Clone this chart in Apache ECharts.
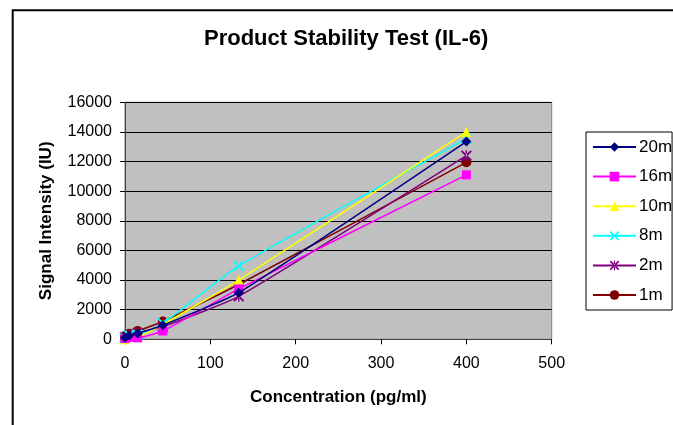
<!DOCTYPE html>
<html>
<head>
<meta charset="utf-8">
<script src="https://cdn.jsdelivr.net/npm/echarts@6/dist/echarts.min.js"></script>
<style>
html,body{margin:0;padding:0;background:#fff;}
#c{width:673px;height:425px;}
</style>
</head>
<body>
<div id="c"></div>
<script>
const concentrations = [0, 4.9, 14.8, 44.4, 133.3, 400];
const seriesNames = ['20m', '16m', '10m', '8m', '2m', '1m'];
const s20m = [100, 250, 400, 950, 3150, 13350];
const s16m = [50, 120, 100, 560, 3400, 11100];
const s10m = [0, 200, 180, 1000, 4000, 14000];
const s8m = [60, 280, 300, 1080, 4950, 13550];
const s2m = [120, 300, 420, 850, 2900, 12400];
const s1m = [220, 380, 560, 1200, 3700, 11950];
const yTicks = [0, 2000, 4000, 6000, 8000, 10000, 12000, 14000, 16000];
const xTicks = [0, 100, 200, 300, 400, 500];

const seriesValues = [s20m, s16m, s10m, s8m, s2m, s1m];
const colors = ['#000080', '#FF00FF', '#FFFF00', '#00FFFF', '#800080', '#800000'];
const crossPath = 'path://M0,1.2L1.2,0L5,3.8L8.8,0L10,1.2L6.2,5L10,8.8L8.8,10L5,6.2L1.2,10L0,8.8L3.8,5Z';
const starPath = 'path://M0,1.2L1.2,0L5,3.8L8.8,0L10,1.2L6.2,5L10,8.8L8.8,10L5,6.2L1.2,10L0,8.8L3.8,5Z M4.4,0L4.4,10L5.6,10L5.6,0Z';
const symbols = ['diamond', 'rect', 'triangle', crossPath, starPath, 'circle'];
const sizes = [10, 9, 10, 11, 11, 10];

const chart = echarts.init(document.getElementById('c'));
const font = 'Liberation Sans, Arial, sans-serif';
chart.setOption({
  animation: false,
  backgroundColor: '#fff',
  graphic: [{
    type: 'rect', silent: true,
    shape: {x: 12.7, y: 10.3, width: 700, height: 450},
    style: {fill: 'none', stroke: '#000', lineWidth: 2}
  }],
  title: {
    text: 'Product Stability Test (IL-6)',
    left: 204, top: 28, padding: 0,
    textStyle: {fontFamily: font, fontSize: 22, fontWeight: 'bold', color: '#000'}
  },
  legend: {
    orient: 'vertical',
    left: 586, top: 132,
    padding: [6.5, 0, 6.5, 6],
    itemWidth: 43, itemHeight: 12,
    itemGap: 12.6,
    borderColor: '#000', borderWidth: 1,
    backgroundColor: '#fff',
    textStyle: {fontFamily: font, fontSize: 17, color: '#000', padding: [0, 0, 0, -2]},
    data: seriesNames
  },
  grid: {
    left: 125, top: 102.3, width: 426.7, height: 237,
    show: true, backgroundColor: '#C0C0C0', borderColor: '#808080', borderWidth: 1
  },
  xAxis: {
    type: 'value', min: 0, max: 500, interval: 100,
    name: 'Concentration (pg/ml)', nameLocation: 'middle', nameGap: 50,
    nameTextStyle: {fontFamily: font, fontSize: 17, fontWeight: 'bold', color: '#000'},
    axisLine: {show: true, lineStyle: {color: '#404040', width: 1}},
    axisTick: {show: true, length: 5, lineStyle: {color: '#000'}},
    axisLabel: {fontFamily: font, fontSize: 16, color: '#000', margin: 16,
      formatter: v => xTicks.includes(v) ? String(v) : ''},
    splitLine: {show: false}
  },
  yAxis: {
    type: 'value', min: 0, max: 16000, interval: 2000,
    name: 'Signal Intensity (IU)', nameLocation: 'middle', nameGap: 70, nameRotate: 90,
    nameTextStyle: {fontFamily: font, fontSize: 17, fontWeight: 'bold', color: '#000'},
    axisLine: {show: true, lineStyle: {color: '#404040', width: 1}},
    axisTick: {show: true, length: 5, lineStyle: {color: '#000'}},
    axisLabel: {fontFamily: font, fontSize: 16, color: '#000', margin: 13,
      formatter: v => yTicks.includes(v) ? String(v) : ''},
    splitLine: {show: true, lineStyle: {color: '#000', width: 1}}
  },
  series: seriesNames.map((name, i) => ({
    name: name,
    type: 'line',
    smooth: 0.15,
    data: concentrations.map((x, j) => [x, seriesValues[i][j]]),
    symbol: symbols[i],
    symbolSize: sizes[i],
    showAllSymbol: true,
    lineStyle: {color: colors[i], width: 1.5},
    itemStyle: {color: colors[i], borderWidth: 0},
    z: 2 + (6 - i)
  }))
});
</script>
</body>
</html>
